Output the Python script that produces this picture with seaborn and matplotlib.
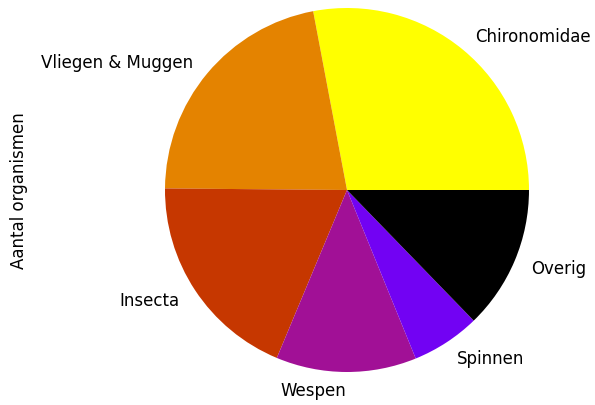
import numpy as np
import matplotlib
matplotlib.use('Agg')
import matplotlib.pyplot as plt
import seaborn as sns

categories = ['Chironomidae', 'Vliegen & Muggen', 'Insecta', 'Wespen', 'Spinnen', 'Overig']
aantal = [101, 79, 68, 45, 22, 46]

plt.rcParams['font.family'] = ['DejaVu Sans']

# gnuplot_r, sampled over the full range (incl. yellow and black ends)
colors = sns.color_palette(plt.get_cmap('gnuplot_r')(np.linspace(0, 1, len(categories))))

fig = plt.figure(figsize=(5.95, 4.06), dpi=100)
ax = fig.add_axes([(347 - 227.5) / 595, (215 - 227.5) / 406, 455 / 595, 455 / 406])
ax.pie(aantal, labels=categories, colors=colors,
       wedgeprops={'linewidth': 0}, textprops={'fontsize': 12, 'color': 'black'})
ax.set_aspect('equal')
ax.set_ylabel('Aantal organismen', fontsize=12, color='black')
ax.yaxis.set_label_coords(-0.201, 0.5)
fig.savefig('out.png', dpi=100)
